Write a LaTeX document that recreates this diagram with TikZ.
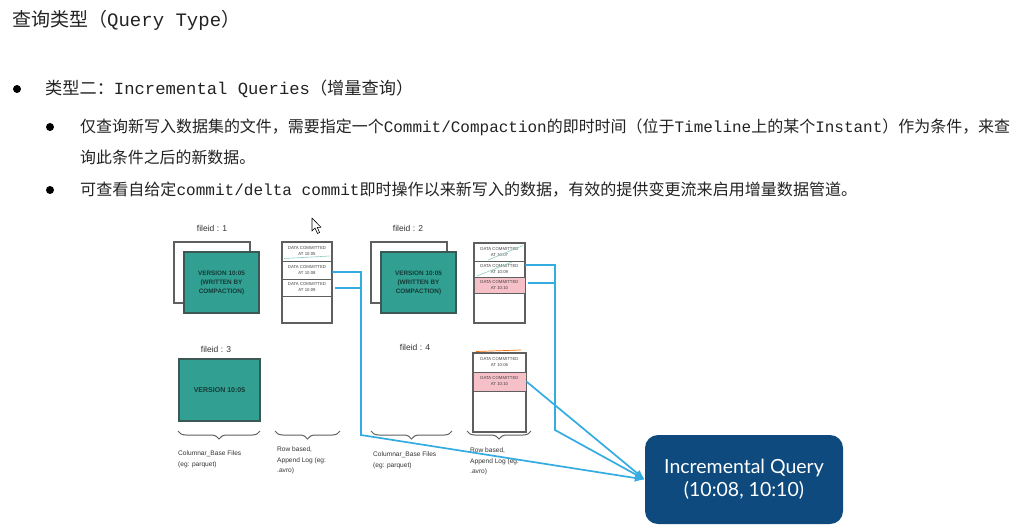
\documentclass[tikz,border=0pt]{standalone}
\usepackage{fontspec}
\usepackage{graphicx}
\usetikzlibrary{decorations.pathreplacing,arrows.meta,calc}
\newfontfamily\cjk{Noto Sans CJK SC}
\newfontfamily\mono{Liberation Mono}
\newfontfamily\smallsans{Liberation Sans}
\newfontfamily\qfont{Lato}
\newcommand\zh[1]{{\cjk #1}}
\newcommand\en[1]{{\mono #1}}

\definecolor{ink}{RGB}{35,35,35}
\definecolor{tealfill}{RGB}{49,160,146}
\definecolor{tealedge}{RGB}{60,88,84}
\definecolor{tealtext}{RGB}{22,58,54}
\definecolor{boxedge}{RGB}{95,95,95}
\definecolor{pinkrow}{RGB}{246,192,200}
\definecolor{flowblue}{RGB}{52,172,226}
\definecolor{navy}{RGB}{14,74,125}
\definecolor{strike}{RGB}{140,205,195}

\tikzset{
  bodytext/.style={anchor=west, inner sep=0pt, text=ink},
  dot/.style={circle, fill=black, minimum size=8pt, inner sep=0pt},
  backbox/.style={draw=boxedge, line width=1.2pt, fill=white, inner sep=0pt},
  tealbox/.style={draw=tealedge, line width=1.2pt, fill=tealfill, inner sep=0pt,
    text=tealtext, align=center, font=\smallsans\bfseries\fontsize{6.4}{9}\selectfont},
  logbox/.style={draw=boxedge, line width=1.1pt, fill=white, inner sep=0pt},
  logrow/.style={draw=boxedge, line width=0.8pt, inner sep=0pt, align=center,
    text=black!75, font=\smallsans\fontsize{4.3}{6}\selectfont},
  fileid/.style={inner sep=0pt, text=black!80, font=\smallsans\fontsize{8.5}{9}\selectfont},
  under/.style={decorate, decoration={brace, mirror, amplitude=8pt}, draw=boxedge, line width=1pt},
  caption/.style={anchor=north west, inner sep=0pt, align=left, text=black!80,
    font=\smallsans\fontsize{6.6}{10.5}\selectfont},
  flow/.style={draw=flowblue, line width=1.7pt},
  flowtip/.style={flow, -{Latex[length=10pt,width=8pt]}},
  query/.style={fill=navy, rounded corners=13pt, inner sep=0pt, text=white, align=center,
    font=\qfont\fontsize{19.5}{23}\selectfont}
}

\begin{document}
\begin{tikzpicture}[x=1pt, y=-1pt]
\fill[white] (0,0) rectangle (1015,531);
\useasboundingbox (0,0) rectangle (1015,531);

% heading and bullet text
\node[bodytext, font=\fontsize{19}{19}\selectfont] (title) at (12,20)
  {\resizebox{228pt}{\height}{\zh{查询类型（}\en{Query Type}\zh{）}}};

\node[dot] (d1) at (17,89) {};
\node[bodytext, font=\fontsize{17}{17}\selectfont] (b1) at (45,89)
  {\resizebox{368pt}{\height}{\zh{类型二：}\en{Incremental Queries}\zh{（增量查询）}}};

\node[dot] (d2) at (50,127) {};
\node[bodytext, font=\fontsize{16}{16}\selectfont] (s1a) at (80,127)
  {\resizebox{930pt}{\height}{\zh{仅查询新写入数据集的文件，需要指定一个}\en{Commit/Compaction}\zh{的即时时间（位于}\en{Timeline}\zh{上的某个}\en{Instant}\zh{）作为条件，来查}}};
\node[bodytext, font=\fontsize{16}{16}\selectfont] (s1b) at (80,157)
  {\resizebox{175pt}{\height}{\zh{询此条件之后的新数据。}}};

\node[dot] (d3) at (50,190) {};
\node[bodytext, font=\fontsize{16}{16}\selectfont] (s2) at (80,190)
  {\resizebox{777pt}{\height}{\zh{可查看自给定}\en{commit/delta commit}\zh{即时操作以来新写入的数据，有效的提供变更流来启用增量数据管道。}}};

% pointer
\filldraw[fill=white, draw=black, line width=0.6pt, line join=round]
  (312,218) -- (312,231) -- (315,228) -- (317.5,233.5) -- (319.6,232.5) -- (317.2,227.3) -- (321,227.3) -- cycle;

% file group 1
\node[fileid] (id1) at (212,228) {fileid : 1};
\node[backbox, minimum width=76pt, minimum height=61pt] (f1back) at (212,272.5) {};
\node[tealbox, minimum width=75pt, minimum height=61pt] (f1) at (221.5,282.5)
  {VERSION 10:05\\(WRITTEN BY\\COMPACTION)};

\node[logbox, minimum width=50pt, minimum height=81pt] (log1) at (307,282.5) {};
\node[logrow, minimum width=50pt, minimum height=19pt] (l1r1) at (307,251.5) {DATA COMMITTED\\AT 10:05};
\node[logrow, minimum width=50pt, minimum height=18pt] (l1r2) at (307,270) {DATA COMMITTED\\AT 10:08};
\node[logrow, minimum width=50pt, minimum height=17pt] (l1r3) at (307,287.5) {DATA COMMITTED\\AT 10:09};
\draw[strike, line width=0.6pt] (284,258.5) -- (330,256);

% file group 2
\node[fileid] (id2) at (408,228) {fileid : 2};
\node[backbox, minimum width=76pt, minimum height=61pt] (f2back) at (409,272.5) {};
\node[tealbox, minimum width=75pt, minimum height=61pt] (f2) at (418.5,282.5)
  {VERSION 10:05\\(WRITTEN BY\\COMPACTION)};

\node[logbox, minimum width=51pt, minimum height=80pt] (log2) at (499.5,283) {};
\node[logrow, minimum width=51pt, minimum height=18pt] (l2r1) at (499.5,252) {DATA COMMITTED\\AT 10:07};
\node[logrow, minimum width=51pt, minimum height=16pt] (l2r2) at (499.5,269) {DATA COMMITTED\\AT 10:09};
\node[logrow, minimum width=51pt, minimum height=16pt, fill=pinkrow] (l2r3) at (499.5,285) {DATA COMMITTED\\AT 10:10};
\draw[strike, line width=0.6pt] (488,260) -- (523,245.5);
\draw[strike, line width=0.6pt] (477,276) -- (512,262);

% file group 3
\node[fileid] (id3) at (216,349) {fileid : 3};
\node[tealbox, minimum width=81pt, minimum height=62pt, font=\smallsans\bfseries\fontsize{7}{9}\selectfont] (f3) at (219.5,390) {VERSION 10:05};

% file group 4
\node[fileid] (id4) at (415,347) {fileid : 4};
\node[logbox, minimum width=53pt, minimum height=79pt] (log4) at (499.5,392.5) {};
\node[logrow, minimum width=53pt, minimum height=19pt] (l4r1) at (499.5,362.5) {DATA COMMITTED\\AT 10:06};
\node[logrow, minimum width=53pt, minimum height=19pt, fill=pinkrow] (l4r2) at (499.5,381.5) {DATA COMMITTED\\AT 10:10};
\draw[orange!85!red, line width=0.7pt] (476,351.5) -- (521,350);

% braces and captions
\draw[under] (178,431) -- (260,431);
\draw[under] (275,431) -- (340,431);
\draw[under] (371,431) -- (452,431);
\draw[under] (467,431) -- (531,431);
\node[caption] (c1) at (178,451) {Columnar\_Base Files\\(eg: parquet)};
\node[caption] (c2) at (277,447) {Row based,\\Append Log (eg:\\.avro)};
\node[caption] (c3) at (373,452) {Columnar\_Base Files\\(eg: parquet)};
\node[caption] (c4) at (470,448) {Row based,\\Append Log (eg:\\.avro)};

% query box
\node[query, minimum width=198pt, minimum height=89pt] (q) at (744,479.5)
  {Incremental Query\\(10:08, 10:10)};

% incremental read paths
\coordinate (v1bot) at (361,435);
\coordinate (v2bot) at (555,430);
\coordinate (a1) at ($(l1r2.east)+(0,2)$);
\coordinate (b1) at ($(l1r3.east)+(3,0.5)$);
\coordinate (a2) at ($(l2r2.east)+(0,-4)$);
\coordinate (b2) at ($(l2r3.east)+(3,-2)$);
\draw[flow] (b1) -- (b1 -| v1bot);
\draw[flow] (b2) -- (b2 -| v2bot);
\draw[flowtip] (a1) -- (a1 -| v1bot) -- (v1bot) -- (q.west);
\draw[flowtip] (a2) -- (a2 -| v2bot) -- (v2bot) -- (q.west);
\draw[flowtip] (l4r2.east) -- (q.west);
\end{tikzpicture}
\end{document}
